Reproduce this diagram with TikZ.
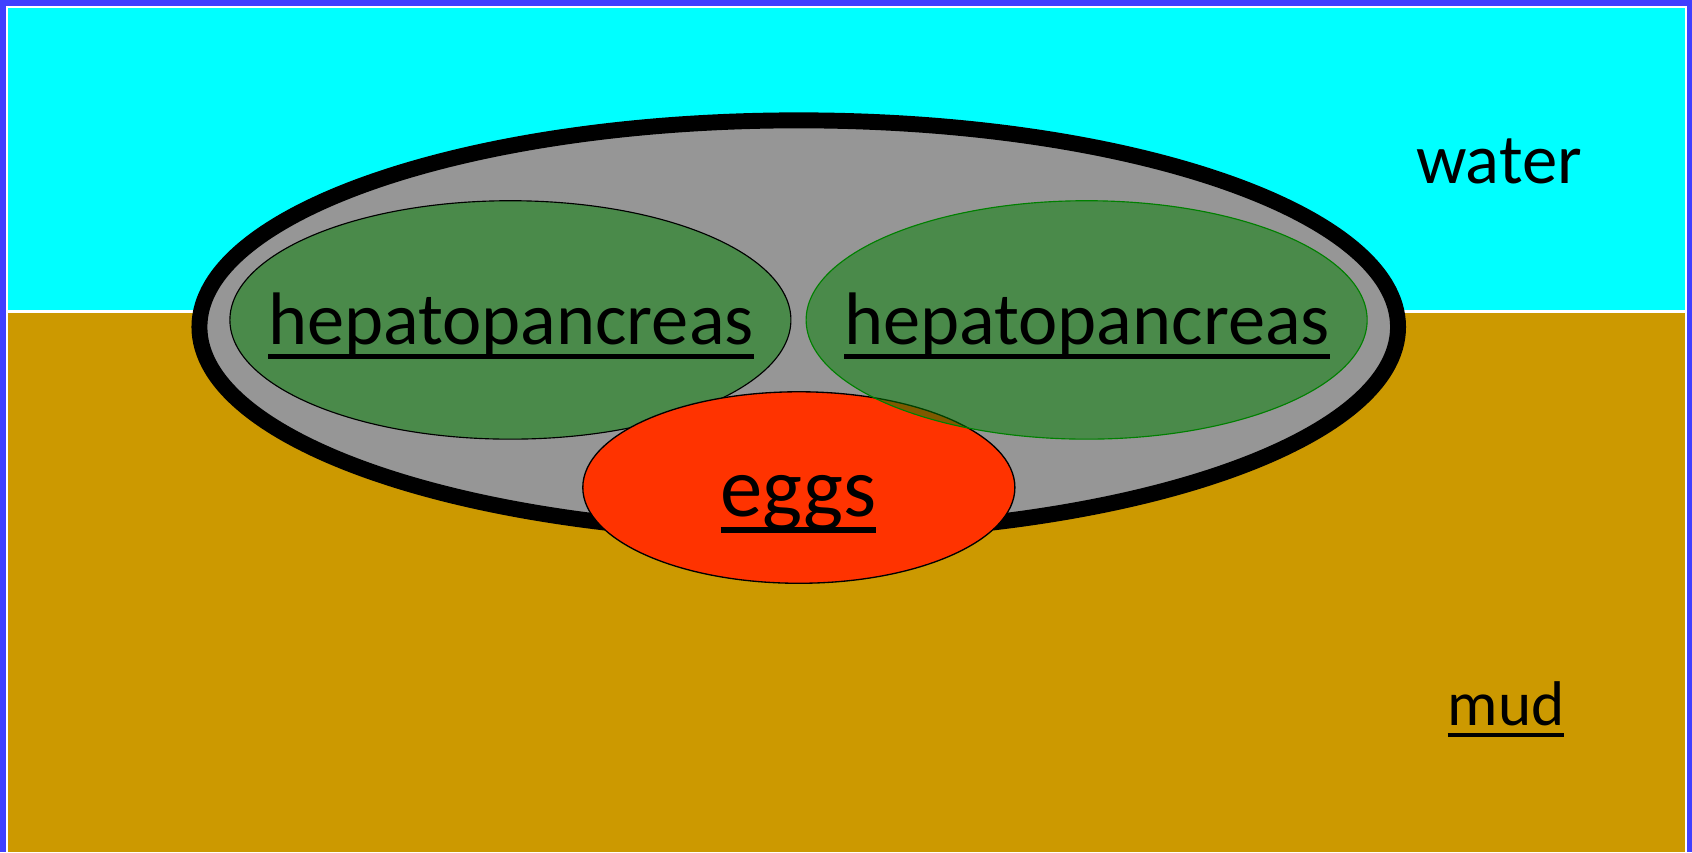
\documentclass[tikz,border=0pt]{standalone}
\usepackage{fontspec}
\setmainfont{Carlito}
\usetikzlibrary{shapes.geometric}
\definecolor{Frame}{HTML}{4040FF}
\definecolor{Water}{HTML}{00FFFF}
\definecolor{Mud}{HTML}{CC9900}
\definecolor{Shell}{HTML}{969696}
\definecolor{Gland}{HTML}{008000}
\definecolor{Roe}{HTML}{FF3300}
\newcommand{\ulabel}[1]{\sbox0{#1}\rlap{\rule[-0.19em]{\wd0}{0.065em}}\usebox0}

\begin{document}
\begin{tikzpicture}[x=0.02cm, y=-0.02cm,
    blob/.style={ellipse, inner sep=0pt},
    gland/.style={blob, fill=Gland, fill opacity=0.5, line width=0.6pt, minimum width=10.4cm, minimum height=4.42cm},
    tag/.style={anchor=base, inner sep=0pt, text=black}]
    \useasboundingbox (0,0) rectangle (1568,790);
    \fill[Frame] (0,0) rectangle (1568,790);
    \fill[white] (5.5,5.5) rectangle (1563.4,790);
    \fill[Water] (7.1,7.1) rectangle (1561.7,287.6);
    \fill[Mud] (7.1,289.6) rectangle (1561.7,790);
    \node[blob, draw=black, fill=Shell, line width=8.4pt, minimum width=22.22cm, minimum height=7.66cm] (shell) at (740.2,303) {};
    \node[gland, draw=black] (hepL) at (473,296.5) {};
    \node[blob, draw=black, fill=Roe, line width=0.7pt, minimum width=8.01cm, minimum height=3.55cm] (eggs) at (740.3,451.8) {};
    \node[gland, draw=Gland] (hepR) at (1007,296.5) {};
    \node[tag, font=\fontsize{39.25}{47}\selectfont] (hepLlab) at (473.5,319.7) {\ulabel{hepatopancreas}};
    \node[tag, font=\fontsize{39.25}{47}\selectfont] (hepRlab) at (1007.5,319.7) {\ulabel{hepatopancreas}};
    \node[tag, font=\fontsize{44.7}{54}\selectfont] (eggslab) at (740,478.8) {\ulabel{eggs}};
    \node[tag, font=\fontsize{37.3}{45}\selectfont] (waterlab) at (1389.2,169.9) {water};
    \node[tag, font=\fontsize{33.3}{40}\selectfont] (mudlab) at (1395.6,671.9) {\ulabel{mud}};
\end{tikzpicture}
\end{document}
